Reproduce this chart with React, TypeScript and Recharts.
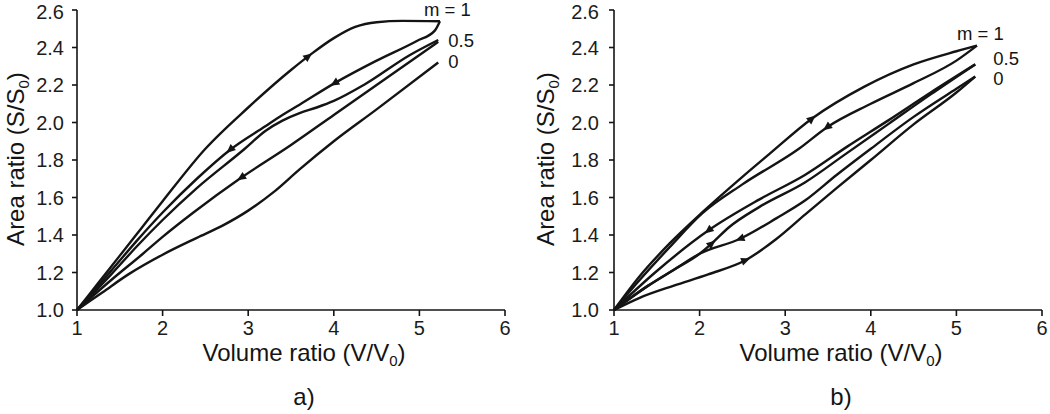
import React from "react";
import { ComposedChart, Line, Scatter, XAxis, YAxis, Label } from "recharts";

type Pt = [number, number];

const FONT = '"Liberation Sans", Arial, Helvetica, sans-serif';
const INK = "#141414";

const xTicks = [1, 2, 3, 4, 5, 6];
const yTicks = [1.0, 1.2, 1.4, 1.6, 1.8, 2.0, 2.2, 2.4, 2.6];

// ---- panel a) : volume ratio vs area ratio
const aM1Up: Pt[] = [
  [1, 1], [1.25, 1.145], [1.5, 1.29], [1.75, 1.435], [2.0, 1.58], [2.5, 1.86], [3.0, 2.08],
  [3.5, 2.28], [3.75, 2.37], [4.0, 2.45], [4.25, 2.51], [4.5, 2.535], [4.8, 2.542], [5.24, 2.54],
];
const aM1Down: Pt[] = [
  [1, 1], [1.4, 1.21], [1.7, 1.37], [2.0, 1.52], [2.4, 1.7], [2.79, 1.855], [3.2, 1.98],
  [3.4, 2.04], [3.6, 2.095], [4.01, 2.21], [4.5, 2.33], [4.97, 2.435], [5.18, 2.49], [5.24, 2.54],
];
const aHalfUp: Pt[] = [
  [1, 1], [1.4, 1.19], [1.7, 1.34], [2.0, 1.48], [2.4, 1.65], [2.96, 1.86], [3.2, 1.955],
  [3.4, 2.01], [3.6, 2.05], [3.8, 2.08], [4.0, 2.115], [4.35, 2.2], [4.89, 2.36], [5.22, 2.44],
];
const aHalfDown: Pt[] = [
  [1, 1], [1.4, 1.16], [1.77, 1.3], [2.0, 1.39], [2.36, 1.52], [2.9, 1.7], [3.5, 1.88],
  [4.0, 2.04], [4.5, 2.2], [5.22, 2.43],
];
const aZero: Pt[] = [
  [1, 1], [1.3, 1.095], [1.6, 1.19], [2.0, 1.295], [2.4, 1.385], [2.7, 1.45], [3.0, 1.53],
  [3.3, 1.63], [3.6, 1.75], [4.0, 1.9], [4.5, 2.07], [5.22, 2.32],
];

// ---- panel b)
const bM1Up: Pt[] = [
  [1, 1], [1.29, 1.175], [1.65, 1.355], [2.03, 1.52], [2.5, 1.71], [2.81, 1.83],
  [3.31, 2.02], [3.92, 2.19], [4.5, 2.31], [5.0, 2.38], [5.24, 2.41],
];
const bM1Down: Pt[] = [
  [1, 1], [1.3, 1.16], [1.65, 1.335], [2.03, 1.515], [2.5, 1.67], [3.16, 1.86],
  [3.49, 1.975], [4.0, 2.1], [4.5, 2.21], [5.0, 2.33], [5.24, 2.41],
];
const bHalfDown: Pt[] = [
  [1, 1], [1.48, 1.2], [2.105, 1.425], [2.7, 1.59], [3.23, 1.72], [3.72, 1.87],
  [4.2, 2.01], [4.7, 2.16], [5.22, 2.31],
];
const bHalfUp: Pt[] = [
  [1, 1], [1.4, 1.13], [1.7, 1.215], [2.0, 1.3], [2.14, 1.354], [2.34, 1.44], [2.7, 1.55],
  [3.23, 1.68], [3.7, 1.83], [4.2, 1.99], [4.7, 2.15], [5.22, 2.31],
];
const bZeroDown: Pt[] = [
  [1, 1], [1.4, 1.13], [1.7, 1.215], [2.0, 1.3], [2.475, 1.38], [2.9, 1.49], [3.235, 1.585],
  [3.6, 1.72], [4.0, 1.86], [4.5, 2.03], [5.0, 2.18], [5.22, 2.245],
];
const bZeroUp: Pt[] = [
  [1, 1], [1.3, 1.065], [1.7, 1.13], [2.1, 1.19], [2.535, 1.265], [2.9, 1.38], [3.235, 1.51],
  [3.6, 1.65], [4.0, 1.8], [4.5, 1.99], [5.0, 2.16], [5.22, 2.245],
];

// arrowheads: which curve, at which volume ratio, direction of travel
const aArrows = [
  { line: aM1Up, x: 3.7, dir: 1 },
  { line: aM1Down, x: 4.01, dir: -1 },
  { line: aM1Down, x: 2.79, dir: -1 },
  { line: aHalfDown, x: 2.92, dir: -1 },
];
const bArrows = [
  { line: bM1Up, x: 3.31, dir: 1 },
  { line: bM1Down, x: 3.49, dir: -1 },
  { line: bHalfDown, x: 2.105, dir: -1 },
  { line: bHalfUp, x: 2.14, dir: 1 },
  { line: bZeroDown, x: 2.475, dir: -1 },
  { line: bZeroUp, x: 2.535, dir: 1 },
];

// curve end labels
const aTags = [
  { text: "m = 1", line: aM1Up, dx: -16, dy: -5 },
  { text: "0.5", line: aHalfUp, dx: 10, dy: 7 },
  { text: "0", line: aZero, dx: 10, dy: 5 },
];
const bTags = [
  { text: "m = 1", line: bM1Up, dx: -20, dy: -6 },
  { text: "0.5", line: bHalfUp, dx: 18, dy: 1 },
  { text: "0", line: bZeroUp, dx: 18, dy: 8 },
];

const PLOT_W = 428;
const PLOT_H = 300;
const KX = PLOT_W / 5;
const KY = PLOT_H / 1.6;

const toXY = (pts: Pt[]) => pts.map(([x, y]) => ({ x, y }));

function sampleAt(pts: Pt[], x: number) {
  for (let i = 1; i < pts.length; i++) {
    const [x0, y0] = pts[i - 1];
    const [x1, y1] = pts[i];
    if (x <= x1) {
      const s = (y1 - y0) / (x1 - x0);
      return { y: y0 + s * (x - x0), slope: s };
    }
  }
  return { y: pts[pts.length - 1][1], slope: 0 };
}

const ArrowShape = (p: any) => {
  const { cx, cy, payload } = p;
  if (cx == null || cy == null) return <g />;
  let ang = Math.atan2(-payload.slope * KY, KX);
  if (payload.dir < 0) ang += Math.PI;
  const deg = (ang * 180) / Math.PI;
  return (
    <path
      d="M5,0 L-4,-4 L-4,4 Z"
      transform={`translate(${cx},${cy}) rotate(${deg})`}
      fill={INK}
    />
  );
};

const TagShape = (p: any) => {
  const { cx, cy, payload } = p;
  if (cx == null || cy == null) return <g />;
  return (
    <text x={cx + payload.dx} y={cy + payload.dy} fontSize={18.5} fontFamily={FONT} fill={INK}>
      {payload.text}
    </text>
  );
};

interface PanelProps {
  left: number;
  width: number;
  marginLeft: number;
  marginRight: number;
  yTickMargin: number;
  lines: Pt[][];
  arrows: { line: Pt[]; x: number; dir: number }[];
  tags: { text: string; line: Pt[]; dx: number; dy: number }[];
  caption: string;
}

function Panel({ left, width, marginLeft, marginRight, yTickMargin, lines, arrows, tags, caption }: PanelProps) {
  const arrowData = arrows.map((a) => {
    const s = sampleAt(a.line, a.x);
    return { x: a.x, y: s.y, slope: s.slope, dir: a.dir };
  });
  const tagData = tags.map((t) => {
    const end = t.line[t.line.length - 1];
    return { x: end[0], y: end[1], text: t.text, dx: t.dx, dy: t.dy };
  });

  const xTitle = (props: any) => {
    const vb = props.viewBox || { x: marginLeft + 60, y: 310, width: PLOT_W };
    const cx = vb.x + vb.width / 2 + 13;
    return (
      <g fontFamily={FONT} fill={INK}>
        <text x={cx} y={vb.y + 51} textAnchor="middle" fontSize={24}>
          Volume ratio (V/V
          <tspan fontSize={15} dy={5}>0</tspan>
          <tspan dy={-5}>)</tspan>
        </text>
        <text x={cx} y={vb.y + 95} textAnchor="middle" fontSize={24}>
          {caption}
        </text>
      </g>
    );
  };

  const yTitle = (props: any) => {
    const vb = props.viewBox || { y: 10, height: PLOT_H };
    const x = 24;
    const y = vb.y + vb.height / 2 - 1;
    return (
      <text
        x={x}
        y={y}
        transform={`rotate(-90, ${x}, ${y})`}
        textAnchor="middle"
        fontSize={24}
        fontFamily={FONT}
        fill={INK}
      >
        Area ratio (S/S
        <tspan fontSize={15} dy={5}>0</tspan>
        <tspan dy={-5}>)</tspan>
      </text>
    );
  };

  return (
    <div style={{ position: "absolute", left, top: 0 }}>
      <ComposedChart
        width={width}
        height={414}
        margin={{ top: 10, right: marginRight, bottom: 74, left: marginLeft }}
      >
        <XAxis
          type="number"
          dataKey="x"
          domain={[1, 6]}
          ticks={xTicks}
          height={30}
          stroke={INK}
          strokeWidth={1.6}
          tickSize={6}
          tickMargin={5}
          tick={{ fontSize: 20, fill: "#1c1c1c", fontFamily: FONT }}
        >
          <Label content={xTitle} />
        </XAxis>
        <YAxis
          type="number"
          dataKey="y"
          domain={[1, 2.6]}
          ticks={yTicks}
          width={60}
          stroke={INK}
          strokeWidth={1.6}
          tickSize={5}
          tickMargin={yTickMargin}
          tickFormatter={(v: number) => v.toFixed(1)}
          tick={{ fontSize: 20, fill: "#1c1c1c", fontFamily: FONT }}
        >
          <Label content={yTitle} />
        </YAxis>
        {lines.map((pts, i) => (
          <Line
            key={i}
            data={toXY(pts)}
            dataKey="y"
            type="monotone"
            stroke={INK}
            strokeWidth={2.4}
            dot={false}
            activeDot={false}
            isAnimationActive={false}
          />
        ))}
        <Scatter data={arrowData} dataKey="y" shape={ArrowShape} isAnimationActive={false} />
        <Scatter data={tagData} dataKey="y" shape={TagShape} isAnimationActive={false} />
      </ComposedChart>
    </div>
  );
}

export default function App() {
  return (
    <div style={{ position: "absolute", left: 0, top: 0, width: 1050, height: 414, background: "#fff" }}>
      <Panel
        left={0}
        width={525}
        marginLeft={17}
        marginRight={20}
        yTickMargin={8}
        lines={[aM1Up, aM1Down, aHalfUp, aHalfDown, aZero]}
        arrows={aArrows}
        tags={aTags}
        caption="a)"
      />
      <Panel
        left={530}
        width={520}
        marginLeft={24}
        marginRight={8}
        yTickMargin={10}
        lines={[bM1Up, bM1Down, bHalfUp, bHalfDown, bZeroUp, bZeroDown]}
        arrows={bArrows}
        tags={bTags}
        caption="b)"
      />
    </div>
  );
}
